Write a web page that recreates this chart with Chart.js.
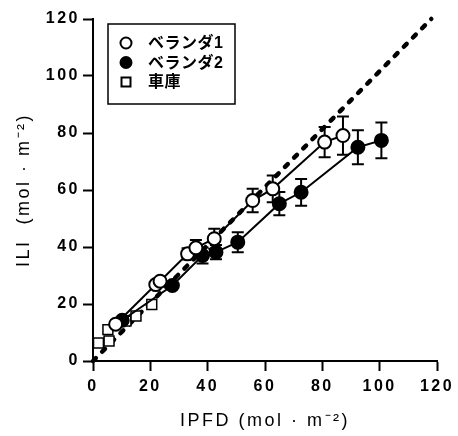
<!DOCTYPE html>
<html>
<head>
<meta charset="utf-8">
<script src="https://cdn.jsdelivr.net/npm/chart.js@4.4.0/dist/chart.umd.min.js"></script>
<style>
  html, body { margin: 0; padding: 0; background: #fff; }
</style>
</head>
<body>
<canvas id="chart" width="458" height="436"></canvas>
<script>
// ベランダ1 (open circles)
const veranda1X = [7.9, 21.9, 23.4, 33.0, 35.9, 42.3, 55.7, 62.7, 80.8, 87.2];
const veranda1Y = [12.9, 26.8, 28.0, 37.6, 39.7, 42.9, 56.3, 60.4, 76.8, 79.1];
const veranda1Err = [0, 0, 0, 2.0, 2.8, 3.5, 4.1, 4.7, 5.3, 6.7];

// ベランダ2 (filled circles)
const veranda2X = [10.2, 27.7, 38.2, 42.9, 50.5, 65.0, 72.6, 92.4, 100.6];
const veranda2Y = [14.3, 26.5, 37.0, 38.2, 41.7, 55.2, 59.2, 75.0, 77.4];
const veranda2Err = [0, 0, 2.8, 2.5, 3.5, 4.1, 4.7, 6.0, 6.3];

// 車庫 (open squares)
const garageX = [1.9, 5.6, 5.2, 11.5, 15.0, 20.5];
const garageY = [6.3, 7.0, 11.0, 14.0, 15.8, 19.8];

// 1:1 reference line
const refX = [0, 118];
const refY = [0, 120];

const xTicks = [0, 20, 40, 60, 80, 100, 120];
const yTicks = [0, 20, 40, 60, 80, 100, 120];

const labels = ["ベランダ1", "ベランダ2", "車庫"];
const xTitle = "IPFD (mol · m⁻²)";
const yTitle = "ILI  (mol · m⁻²)";

const FONT = '"Liberation Sans", Arial, "Noto Sans CJK JP", sans-serif';

function toPoints(xs, ys) {
    return xs.map((x, i) => ({ x: x, y: ys[i] }));
}

// error bars drawn under the markers
const errorBars = {
    id: "errorBars",
    beforeDatasetsDraw(chart) {
        const ctx = chart.ctx;
        const yScale = chart.scales.y;
        ctx.save();
        ctx.strokeStyle = "#000";
        ctx.lineWidth = 2;
        chart.data.datasets.forEach((ds, i) => {
            if (!ds.errors) return;
            const meta = chart.getDatasetMeta(i);
            meta.data.forEach((el, j) => {
                const e = ds.errors[j];
                if (!e) return;
                const v = ds.data[j].y;
                const top = yScale.getPixelForValue(v + e);
                const bot = yScale.getPixelForValue(v - e);
                ctx.beginPath();
                ctx.moveTo(el.x, top); ctx.lineTo(el.x, bot);
                ctx.moveTo(el.x - 6, top); ctx.lineTo(el.x + 6, top);
                ctx.moveTo(el.x - 6, bot); ctx.lineTo(el.x + 6, bot);
                ctx.stroke();
            });
        });
        ctx.restore();
    }
};

// boxed legend inside the plot area, top left
const boxLegend = {
    id: "boxLegend",
    afterDraw(chart) {
        const ctx = chart.ctx;
        const a = chart.chartArea;
        const bx = a.left + 15, by = a.top + 5, bw = 127, bh = 80;
        ctx.save();
        ctx.letterSpacing = "0.5px";
        ctx.fillStyle = "#fff";
        ctx.fillRect(bx, by, bw, bh);
        ctx.strokeStyle = "#000";
        ctx.lineWidth = 1.5;
        ctx.strokeRect(bx, by, bw, bh);
        ctx.font = "bold 16px " + FONT;
        ctx.textBaseline = "middle";
        ctx.fillStyle = "#000";
        const items = chart.data.datasets.filter(d => d.inLegend);
        items.forEach((ds, i) => {
            const cy = by + 19 + i * 19.5;
            const cx = bx + 18;
            ctx.beginPath();
            ctx.lineWidth = 2;
            if (ds.pointStyle === "rect") {
                ctx.rect(cx - 4.5, cy - 4.5, 9, 9);
            } else {
                ctx.arc(cx, cy, 5.5, 0, Math.PI * 2);
            }
            ctx.fillStyle = ds.pointBackgroundColor;
            ctx.fill();
            ctx.stroke();
            ctx.fillStyle = "#000";
            ctx.fillText(ds.label, bx + 40, cy + 1);
        });
        ctx.restore();
    }
};

// widen text spacing like the original typesetting
const spacedText = {
    id: "spacedText",
    beforeDraw(chart) { chart.ctx.letterSpacing = "2.5px"; }
};

new Chart(document.getElementById("chart"), {
    type: "scatter",
    data: {
        datasets: [
            {
                label: labels[0],
                inLegend: true,
                data: toPoints(veranda1X, veranda1Y),
                errors: veranda1Err,
                showLine: true,
                borderColor: "#000",
                borderWidth: 2,
                pointStyle: "circle",
                pointRadius: 6.5,
                pointBorderWidth: 2,
                pointBackgroundColor: "#fff",
                pointBorderColor: "#000"
            },
            {
                label: labels[1],
                inLegend: true,
                data: toPoints(veranda2X, veranda2Y),
                errors: veranda2Err,
                showLine: true,
                borderColor: "#000",
                borderWidth: 2,
                pointStyle: "circle",
                pointRadius: 6.5,
                pointBorderWidth: 2,
                pointBackgroundColor: "#000",
                pointBorderColor: "#000"
            },
            {
                label: labels[2],
                inLegend: true,
                data: toPoints(garageX, garageY),
                showLine: false,
                pointStyle: "rect",
                pointRadius: 7,
                pointBorderWidth: 1.5,
                pointBackgroundColor: "#fff",
                pointBorderColor: "#000"
            },
            {
                label: "1:1",
                data: toPoints(refX, refY),
                showLine: true,
                borderColor: "#000",
                borderWidth: 4.5,
                borderDash: [4, 9],
                borderCapStyle: "round",
                pointRadius: 0,
                clip: false
            }
        ]
    },
    options: {
        responsive: false,
        animation: false,
        layout: { padding: { left: 0, top: 19, right: 21, bottom: 0 } },
        plugins: {
            legend: { display: false },
            tooltip: { enabled: false }
        },
        scales: {
            x: {
                type: "linear",
                min: 0,
                max: 120,
                afterBuildTicks: s => { s.ticks = xTicks.map(v => ({ value: v })); },
                afterFit: s => { s.height = 75; },
                border: { color: "#000", width: 2 },
                grid: { drawOnChartArea: false, color: "#000", tickLength: 10, tickWidth: 2 },
                ticks: { color: "#000", padding: 6, font: { family: FONT, size: 16, weight: "bold" } },
                title: {
                    display: true,
                    text: xTitle,
                    color: "#000",
                    padding: { top: 0, bottom: 4 },
                    font: { family: FONT, size: 18 }
                }
            },
            y: {
                type: "linear",
                min: 0,
                max: 120,
                afterBuildTicks: s => { s.ticks = yTicks.map(v => ({ value: v })); },
                afterFit: s => { s.width = 93; },
                border: { color: "#000", width: 2 },
                grid: { drawOnChartArea: false, color: "#000", tickLength: 10, tickWidth: 2 },
                ticks: { color: "#000", padding: 3, font: { family: FONT, size: 16, weight: "bold" } },
                title: {
                    display: true,
                    text: yTitle,
                    color: "#000",
                    padding: { top: 13, bottom: 0 },
                    font: { family: FONT, size: 18 }
                }
            }
        }
    },
    plugins: [spacedText, errorBars, boxLegend]
});
</script>
</body>
</html>
